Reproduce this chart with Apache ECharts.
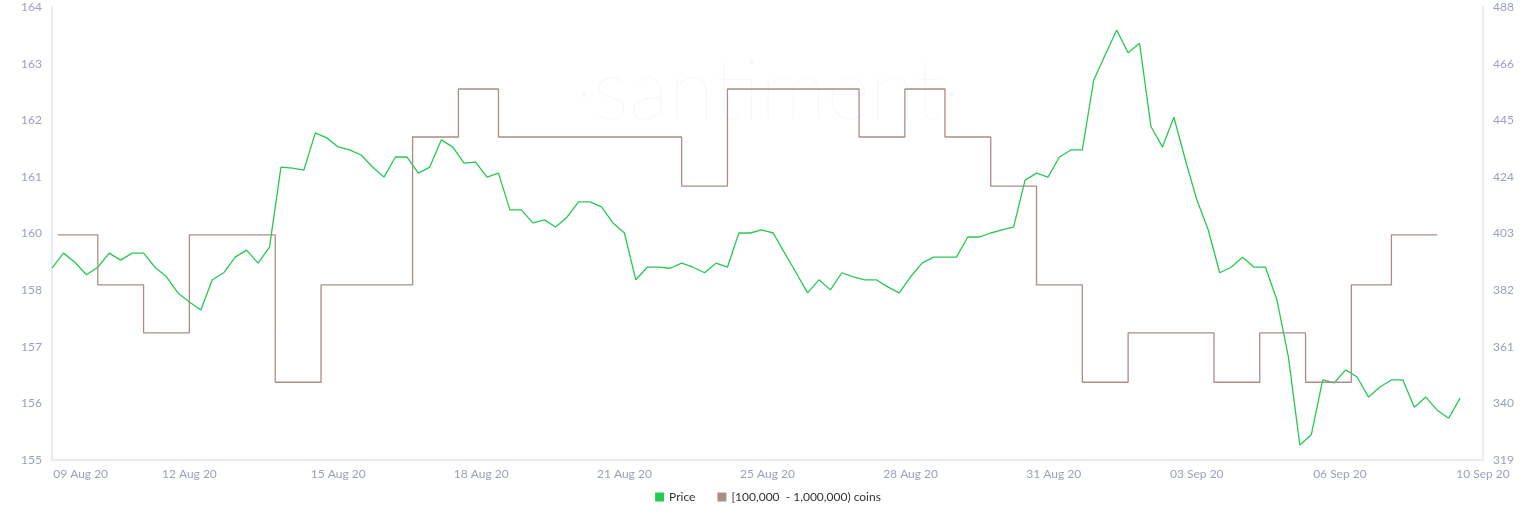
<!DOCTYPE html>
<html>
<head>
<meta charset="utf-8">
<script src="https://cdn.jsdelivr.net/npm/echarts@6/dist/echarts.min.js"></script>
<style>html,body{margin:0;padding:0;background:#fff}#main{width:1536px;height:520px}</style>
</head>
<body>
<div id="main"></div>
<script>
// x axis: 251 slots, date labels at fixed slots
var slotCount = 251;
var xLabels = ['09 Aug 20', '12 Aug 20', '15 Aug 20', '18 Aug 20', '21 Aug 20', '25 Aug 20', '28 Aug 20', '31 Aug 20', '03 Sep 20', '06 Sep 20', '10 Sep 20'];
var xLabelSlots = [5, 24, 50, 75, 100, 125, 150, 175, 200, 225, 250];

// tick labels as printed on the two y axes (bottom to top)
var leftTicks = ['155', '156', '157', '158', '160', '161', '162', '163', '164'];
var rightTicks = ['319', '340', '361', '382', '403', '424', '445', '466', '488'];

// price, one reading every 2 slots
var price = [
    158.81, 159.11, 158.93, 158.68, 158.83, 159.11, 158.97, 159.11, 159.11, 158.83,
    158.64, 158.32, 158.14, 157.98, 158.58, 158.72, 159.03, 159.17, 158.91, 159.23,
    160.82, 160.80, 160.76, 161.50, 161.40, 161.22, 161.16, 161.06, 160.82, 160.62,
    161.02, 161.02, 160.70, 160.82, 161.36, 161.22, 160.90, 160.92, 160.62, 160.70,
    159.97, 159.97, 159.71, 159.77, 159.63, 159.83, 160.13, 160.13, 160.03, 159.71,
    159.51, 158.58, 158.83, 158.83, 158.81, 158.91, 158.83, 158.72, 158.91, 158.83,
    159.51, 159.51, 159.57, 159.51, 159.11, 158.72, 158.32, 158.58, 158.38, 158.72,
    158.64, 158.58, 158.58, 158.44, 158.32, 158.64, 158.91, 159.03, 159.03, 159.03,
    159.43, 159.43, 159.51, 159.57, 159.63, 160.56, 160.70, 160.62, 161.02, 161.16,
    161.16, 162.55, 163.05, 163.54, 163.09, 163.28, 161.62, 161.22, 161.81, 160.96,
    160.17, 159.57, 158.72, 158.83, 159.03, 158.83, 158.83, 158.18, 157.05, 155.30,
    155.50, 156.59, 156.53, 156.79, 156.65, 156.25, 156.45, 156.59, 156.59, 156.05,
    156.25, 155.99, 155.83, 156.23
];

// holders [100,000 - 1,000,000) coins: value starting at a slot
var holdSlots = [1, 8, 16, 24, 39, 47, 63, 71, 78, 110, 118, 141, 149, 156, 164, 172, 180, 188, 203, 211, 219, 227, 234, 242];
var holdValues = [403, 384.3, 366.4, 403, 348, 384.3, 439.5, 457.4, 439.5, 421.2, 457.4, 439.5, 457.4, 439.5, 421.2, 384.3, 348, 366.4, 348, 366.4, 348, 384.3, 403, 403];

var leftMin = 155, leftMax = 164, rightMin = 319, rightMax = 488;

window.addEventListener('load', function () {
    var chart = echarts.init(document.getElementById('main'));
    var cats = [];
    for (var i = 0; i < slotCount; i++) {
        var j = xLabelSlots.indexOf(i);
        cats.push(j >= 0 ? xLabels[j] : '');
    }
    var priceData = price.map(function (v, k) { return [2 * k, v]; });
    var holdData = holdSlots.map(function (s, k) { return [s, holdValues[k]]; });
    var axisTxt = { color: '#9aa1bd', fontSize: 12, fontFamily: 'Lato, sans-serif' };
    function tickFmt(min, max, labels) {
        return function (v) { return labels[Math.round((v - min) / (max - min) * 8)]; };
    }

    chart.setOption({
        animation: false,
        graphic: [{
            type: 'text', left: 'center', top: 50,
            style: { text: '·santiment·', fontSize: 84, fontWeight: 200, fill: '#f4f6fa', fontFamily: 'Lato, sans-serif' },
            z: -1
        }],
        grid: { left: 52, right: 53, top: 7, bottom: 60 },
        legend: {
            bottom: 12, itemWidth: 9, itemHeight: 9, itemGap: 22, icon: 'rect',
            textStyle: { color: '#333', fontSize: 12, fontFamily: 'Lato, sans-serif' },
            data: ['Price', '[100,000  - 1,000,000) coins']
        },
        xAxis: {
            type: 'category', data: cats, boundaryGap: false,
            axisLine: { lineStyle: { color: '#e9ecf4', width: 2 } },
            axisTick: { show: false },
            axisLabel: Object.assign({ interval: 0, margin: 8 }, axisTxt),
            splitLine: { show: false }
        },
        yAxis: [{
            type: 'value', position: 'left', min: leftMin, max: leftMax,
            interval: (leftMax - leftMin) / 8,
            axisLine: { show: true, lineStyle: { color: '#e9ecf4', width: 2 } },
            axisTick: { show: false }, splitLine: { show: false },
            axisLabel: Object.assign({ formatter: tickFmt(leftMin, leftMax, leftTicks), margin: 10 }, axisTxt)
        }, {
            type: 'value', position: 'right', min: rightMin, max: rightMax,
            interval: (rightMax - rightMin) / 8,
            axisLine: { show: true, lineStyle: { color: '#e9ecf4', width: 2 } },
            axisTick: { show: false }, splitLine: { show: false },
            axisLabel: Object.assign({ formatter: tickFmt(rightMin, rightMax, rightTicks), margin: 10 }, axisTxt)
        }],
        series: [{
            name: 'Price', type: 'line', yAxisIndex: 0, data: priceData,
            showSymbol: false, itemStyle: { color: '#26c953' },
            lineStyle: { color: '#26c953', width: 1.3 }
        }, {
            name: '[100,000  - 1,000,000) coins', type: 'line', yAxisIndex: 1, data: holdData,
            step: 'end', showSymbol: false, itemStyle: { color: '#a88f86' },
            lineStyle: { color: '#a88f86', width: 1.3 }
        }]
    });
}, false);
</script>
</body>
</html>
